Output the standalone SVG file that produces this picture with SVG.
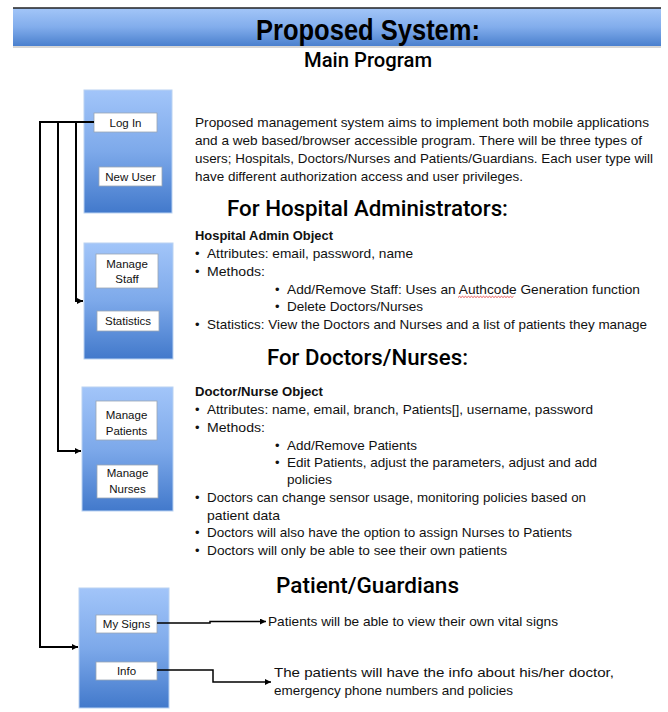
<svg xmlns="http://www.w3.org/2000/svg" width="668" height="712" viewBox="0 0 668 712">
<defs>
<linearGradient id="band" x1="0" y1="0" x2="0" y2="1">
<stop offset="0" stop-color="#A3C6F8"/>
<stop offset="0.5" stop-color="#82ADEC"/>
<stop offset="1" stop-color="#4A80CE"/>
</linearGradient>
<linearGradient id="boxg" x1="0" y1="0" x2="0" y2="1">
<stop offset="0" stop-color="#A2C5F9"/>
<stop offset="0.5" stop-color="#7DA9EA"/>
<stop offset="1" stop-color="#4279CB"/>
</linearGradient>
<marker id="arr" viewBox="0 0 10 10" refX="10" refY="5" markerWidth="6" markerHeight="6" markerUnits="userSpaceOnUse" orient="auto">
<path d="M0,0 L10,5 L0,10 Z" fill="#000"/>
</marker>
</defs>
<style>
.t{font-family:"Liberation Sans",Arial,sans-serif;font-size:13px;fill:#111}
.b{font-weight:bold}
.h{font-family:"Liberation Sans",Arial,sans-serif;font-size:21px;fill:#000}
.hm{font-family:Roboto,"Liberation Sans",Arial,sans-serif;font-size:22px;font-weight:500;fill:#000}
.lbl{font-family:"Liberation Sans",Arial,sans-serif;font-size:11.5px;fill:#111;text-anchor:middle}
.panel{fill:url(#boxg);stroke:#B9D2F2;stroke-width:1}
.btn{fill:#fff;stroke:#9AA5B4;stroke-width:0.8}
.c{fill:none;stroke:#000;stroke-width:2}
.ca{fill:none;stroke:#000;stroke-width:1.5}
</style>
<rect width="668" height="712" fill="#fff"/>
<g id="header">
<rect x="13" y="8" width="648" height="38" fill="url(#band)"/>
<line x1="13" y1="8" x2="661" y2="8" stroke="#222" stroke-width="1.5"/>
<line x1="13" y1="47" x2="661" y2="47" stroke="#C8C8C8" stroke-width="1.5"/>
<text x="256" y="40" class="h b" style="font-size:29px" textLength="224" lengthAdjust="spacingAndGlyphs">Proposed System:</text>
<text x="304" y="67" class="hm" style="font-size:20px" textLength="128" lengthAdjust="spacingAndGlyphs">Main Program</text>
</g>
<g id="panel-login">
<rect class="panel" x="84" y="90" width="88" height="123"/>
<rect class="btn" x="94" y="113" width="63" height="19"/>
<text class="lbl" x="125.5" y="126.5">Log In</text>
<rect class="btn" x="99" y="167" width="63" height="19"/>
<text class="lbl" x="130.5" y="180.5">New User</text>
</g>
<g id="panel-admin">
<rect class="panel" x="84" y="243" width="89" height="116"/>
<rect class="btn" x="96" y="254" width="62" height="34"/>
<text class="lbl" x="127" y="268">Manage</text>
<text class="lbl" x="127" y="283">Staff</text>
<rect class="btn" x="97" y="311" width="62" height="20"/>
<text class="lbl" x="128" y="325">Statistics</text>
</g>
<g id="panel-doctor">
<rect class="panel" x="82" y="387" width="91" height="124"/>
<rect class="btn" x="96" y="401" width="61" height="39"/>
<text class="lbl" x="126.5" y="419">Manage</text>
<text class="lbl" x="126.5" y="435">Patients</text>
<rect class="btn" x="97" y="465" width="61" height="33"/>
<text class="lbl" x="127.5" y="477">Manage</text>
<text class="lbl" x="127.5" y="493">Nurses</text>
</g>
<g id="panel-patient">
<rect class="panel" x="79" y="588" width="90" height="120"/>
<rect class="btn" x="96" y="615" width="61" height="18"/>
<text class="lbl" x="126.5" y="628">My Signs</text>
<rect class="btn" x="96" y="662" width="61" height="18"/>
<text class="lbl" x="126.5" y="675">Info</text>
</g>
<g id="connectors">
<path class="c" d="M94,122 H40 V647 H78" marker-end="url(#arr)"/>
<path class="c" d="M58,122 V451 H81" marker-end="url(#arr)"/>
<path class="c" d="M76,122 V301 H83" marker-end="url(#arr)"/>
<path class="ca" d="M157,623 H210 V621.5 H266" marker-end="url(#arr)"/>
<path class="ca" d="M157,670 H213 V682 H271" marker-end="url(#arr)"/>
</g>
<g id="intro">
<text class="t" x="195" y="127" textLength="454" lengthAdjust="spacingAndGlyphs">Proposed management system aims to implement both mobile applications</text>
<text class="t" x="195" y="145" textLength="447" lengthAdjust="spacingAndGlyphs">and a web based/browser accessible program. There will be three types of</text>
<text class="t" x="195" y="163" textLength="458" lengthAdjust="spacingAndGlyphs">users; Hospitals, Doctors/Nurses and Patients/Guardians. Each user type will</text>
<text class="t" x="195" y="181" textLength="328" lengthAdjust="spacingAndGlyphs">have different authorization access and user privileges.</text>
</g>
<g id="admin-text">
<text class="hm" x="227" y="216" textLength="281" lengthAdjust="spacingAndGlyphs">For Hospital Administrators:</text>
<text class="t b" x="195" y="240" textLength="138" lengthAdjust="spacingAndGlyphs">Hospital Admin Object</text>
<text class="t" x="195" y="258">•</text>
<text class="t" x="207" y="258" textLength="206" lengthAdjust="spacingAndGlyphs">Attributes: email, password, name</text>
<text class="t" x="195" y="276">•</text>
<text class="t" x="207" y="276" textLength="58" lengthAdjust="spacingAndGlyphs">Methods:</text>
<text class="t" x="275" y="294">•</text>
<text class="t" x="287" y="294" textLength="353" lengthAdjust="spacingAndGlyphs">Add/Remove Staff: Uses  an Authcode Generation function</text>
<path d="M458,297.5 l1.5,-1.2 l1.5,1.2 l1.5,-1.2 l1.5,1.2 l1.5,-1.2 l1.5,1.2 l1.5,-1.2 l1.5,1.2 l1.5,-1.2 l1.5,1.2 l1.5,-1.2 l1.5,1.2 l1.5,-1.2 l1.5,1.2 l1.5,-1.2 l1.5,1.2 l1.5,-1.2 l1.5,1.2 l1.5,-1.2 l1.5,1.2 l1.5,-1.2 l1.5,1.2 l1.5,-1.2 l1.5,1.2 l1.5,-1.2 l1.5,1.2 l1.5,-1.2 l1.5,1.2 l1.5,-1.2 l1.5,1.2 l1.5,-1.2 l1.5,1.2 l1.5,-1.2 l1.5,1.2 l1.5,-1.2 l1.5,1.2 l1.5,-1.2" fill="none" stroke="#E03030" stroke-width="0.8"/>
<text class="t" x="275" y="311">•</text>
<text class="t" x="287" y="311" textLength="136" lengthAdjust="spacingAndGlyphs">Delete Doctors/Nurses</text>
<text class="t" x="195" y="329">•</text>
<text class="t" x="207" y="329" textLength="440" lengthAdjust="spacingAndGlyphs">Statistics: View the Doctors and Nurses and a list of patients they manage</text>
</g>
<g id="doctor-text">
<text class="hm" x="267" y="365" textLength="201" lengthAdjust="spacingAndGlyphs">For Doctors/Nurses:</text>
<text class="t b" x="195" y="396" textLength="128" lengthAdjust="spacingAndGlyphs">Doctor/Nurse Object</text>
<text class="t" x="195" y="414">•</text>
<text class="t" x="207" y="414" textLength="386" lengthAdjust="spacingAndGlyphs">Attributes: name, email, branch, Patients[], username, password</text>
<text class="t" x="195" y="432">•</text>
<text class="t" x="207" y="432" textLength="58" lengthAdjust="spacingAndGlyphs">Methods:</text>
<text class="t" x="275" y="450">•</text>
<text class="t" x="287" y="450" textLength="130" lengthAdjust="spacingAndGlyphs">Add/Remove Patients</text>
<text class="t" x="275" y="467">•</text>
<text class="t" x="287" y="467" textLength="310" lengthAdjust="spacingAndGlyphs">Edit Patients, adjust the parameters, adjust and add</text>
<text class="t" x="287" y="484" textLength="45" lengthAdjust="spacingAndGlyphs">policies</text>
<text class="t" x="195" y="502">•</text>
<text class="t" x="207" y="502" textLength="379" lengthAdjust="spacingAndGlyphs">Doctors can change sensor usage, monitoring policies based on</text>
<text class="t" x="207" y="520" textLength="73" lengthAdjust="spacingAndGlyphs">patient data</text>
<text class="t" x="195" y="537">•</text>
<text class="t" x="207" y="537" textLength="365" lengthAdjust="spacingAndGlyphs">Doctors will also have the option to assign Nurses to Patients</text>
<text class="t" x="195" y="555">•</text>
<text class="t" x="207" y="555" textLength="300" lengthAdjust="spacingAndGlyphs">Doctors will only be able to see their own patients</text>
</g>
<g id="patient-text">
<text class="hm" x="276" y="593" textLength="183" lengthAdjust="spacingAndGlyphs">Patient/Guardians</text>
<text class="t" x="268" y="626" textLength="290" lengthAdjust="spacingAndGlyphs">Patients will be able to view their own vital signs</text>
<text class="t" x="274" y="677" textLength="340" lengthAdjust="spacingAndGlyphs">The patients will have the info about his/her doctor,</text>
<text class="t" x="274" y="695" textLength="239" lengthAdjust="spacingAndGlyphs">emergency phone numbers and policies</text>
</g>
</svg>
